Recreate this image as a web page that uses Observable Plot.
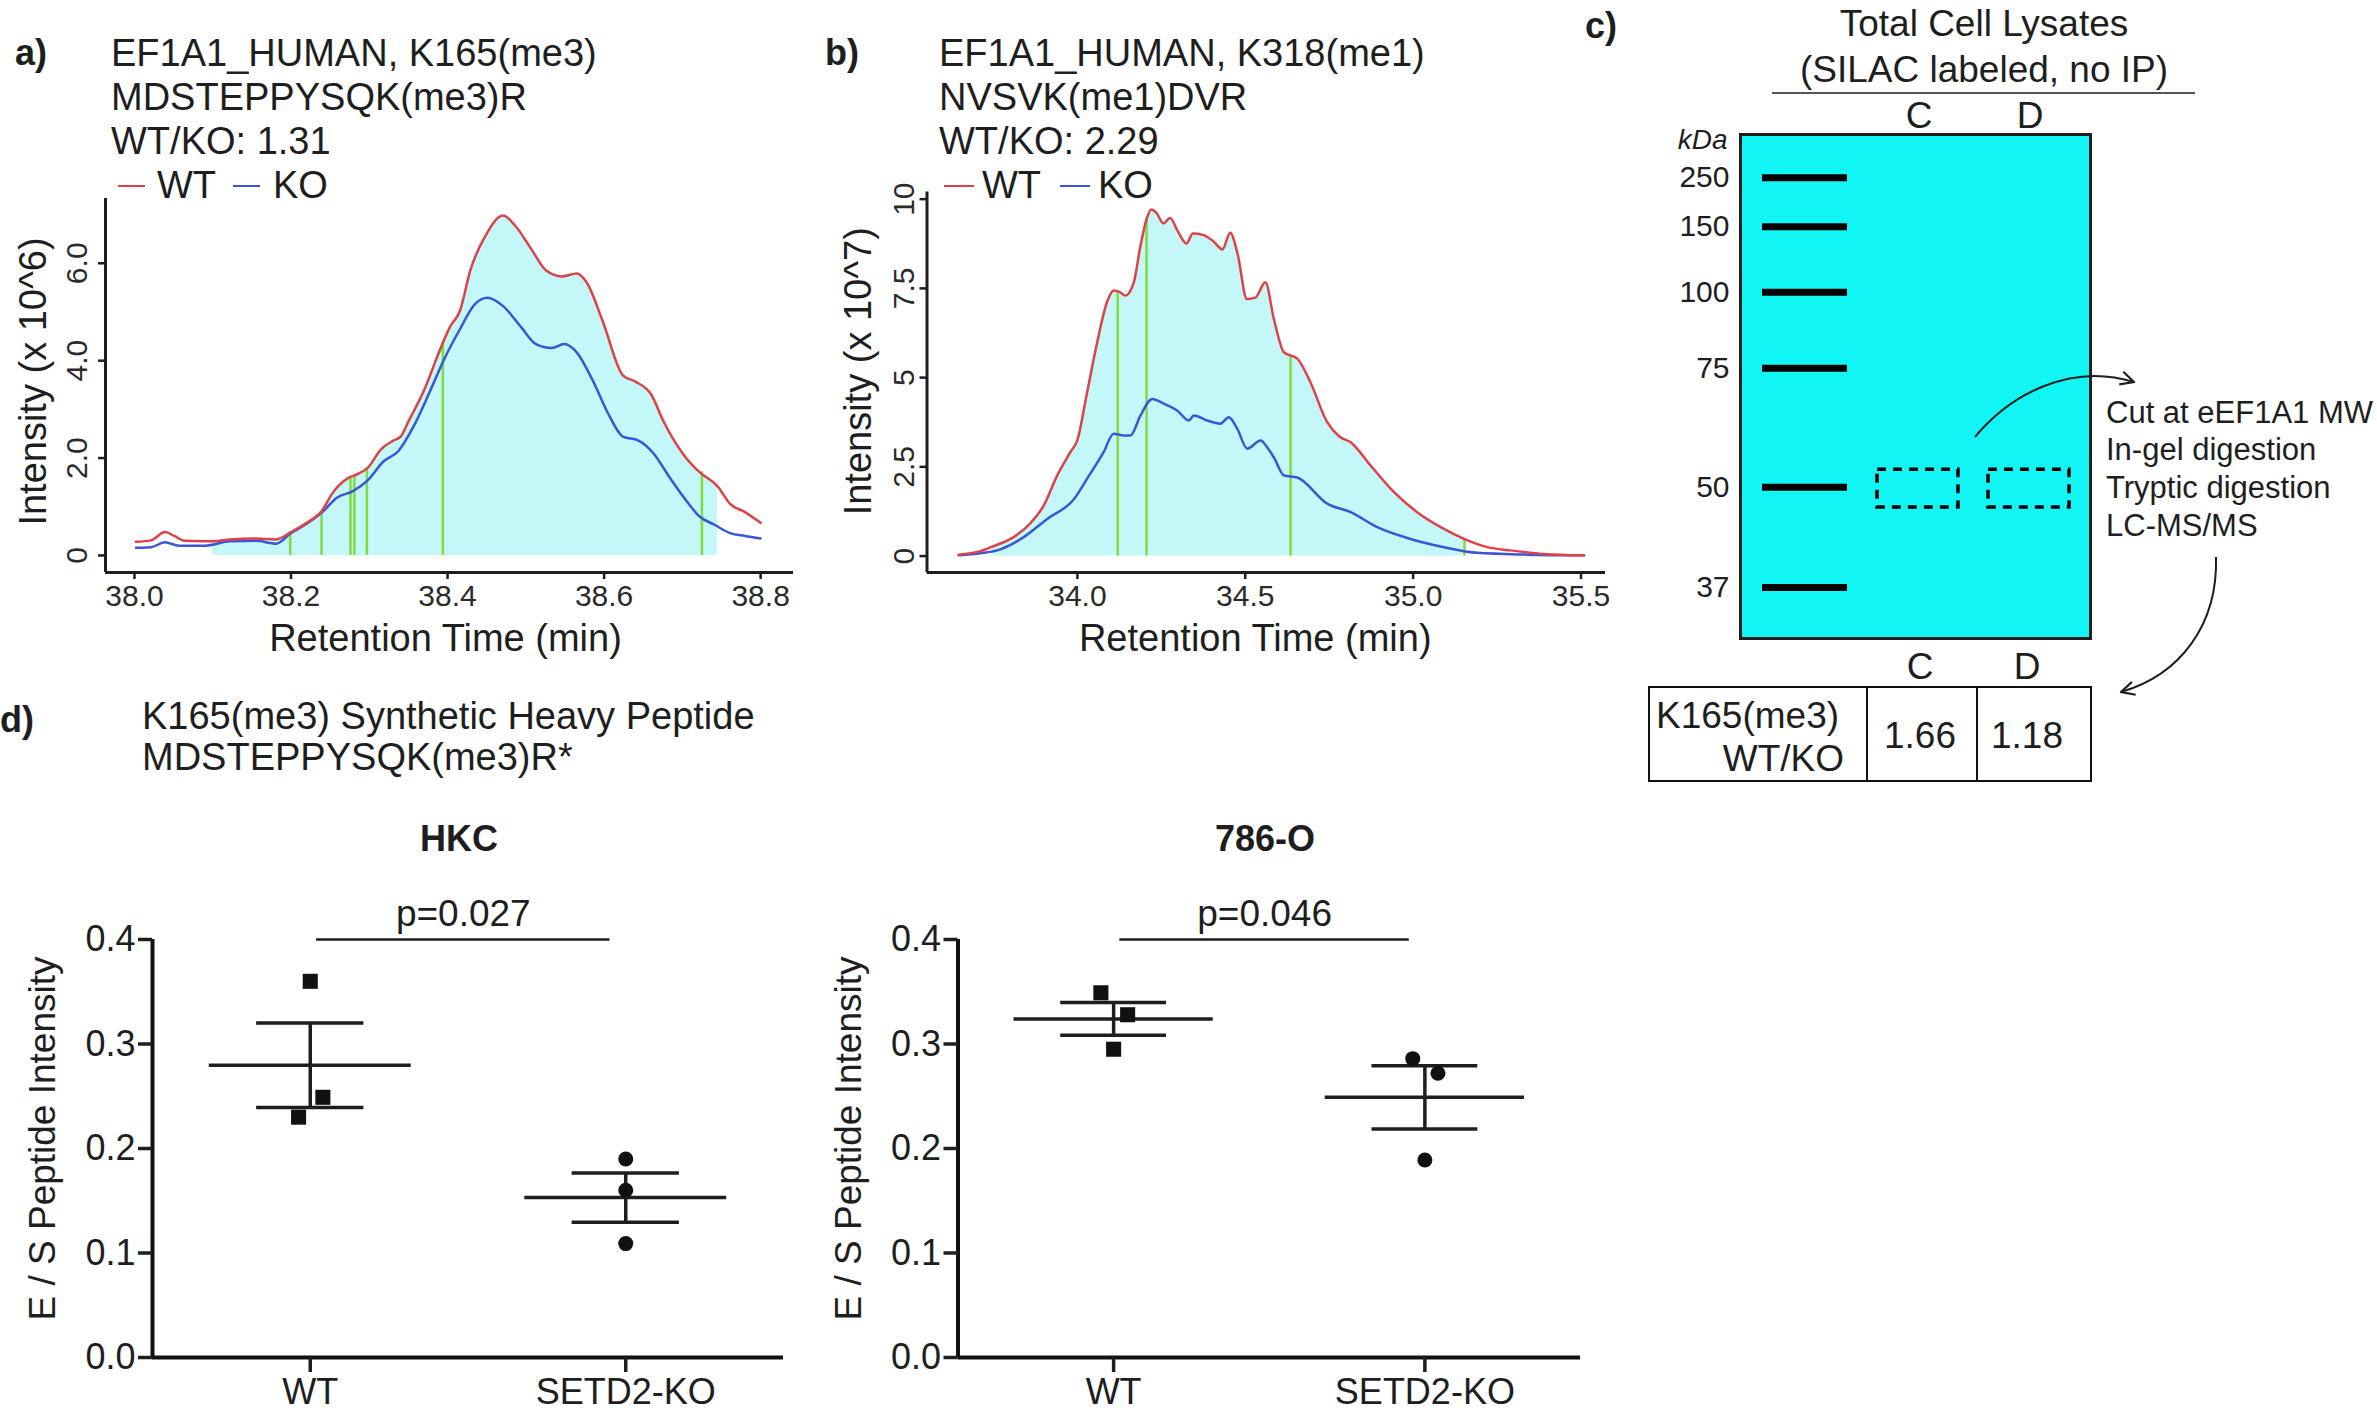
<!DOCTYPE html>
<html><head><meta charset="utf-8">
<script src="https://cdn.jsdelivr.net/npm/d3@7"></script>
<script src="https://cdn.jsdelivr.net/npm/@observablehq/plot@0.6"></script>
<style>
html,body{margin:0;padding:0;background:#fff;}
#fig{position:relative;width:2377px;height:1417px;overflow:hidden;background:#fff;font-family:"Liberation Sans",Arial,Helvetica,sans-serif;color:#1e1e1e;}
.t{position:absolute;white-space:pre;}
.p{position:absolute;}
</style></head><body><div id="fig"></div>
<script>
// ---------------- DATA ----------------
// Panel a: EF1A1_HUMAN K165(me3), intensity x10^6
const aTitle = ["EF1A1_HUMAN, K165(me3)", "MDSTEPPYSQK(me3)R", "WT/KO: 1.31"];
const aTimeWT = [38.002,38.021,38.039,38.051,38.064,38.09,38.10,38.122,38.155,38.181,38.2,38.22,38.24,38.253,38.272,38.285,38.298,38.315,38.331,38.34,38.35,38.37,38.39,38.403,38.416,38.429,38.448,38.471,38.487,38.507,38.526,38.546,38.565,38.578,38.598,38.624,38.64,38.66,38.676,38.702,38.722,38.745,38.761,38.78,38.8];
const aIntWT  = [0.28,0.31,0.48,0.40,0.30,0.29,0.29,0.33,0.35,0.33,0.48,0.67,0.93,1.28,1.58,1.67,1.80,2.18,2.36,2.44,2.75,3.39,4.21,4.69,5.03,5.85,6.55,6.98,6.76,6.29,5.85,5.73,5.79,5.60,4.82,3.70,3.57,3.31,2.75,2.06,1.71,1.42,1.06,0.89,0.67];
const aTimeKO = [38.002,38.021,38.039,38.057,38.09,38.122,38.155,38.181,38.2,38.22,38.24,38.259,38.279,38.298,38.318,38.337,38.357,38.377,38.396,38.416,38.435,38.451,38.471,38.494,38.513,38.533,38.549,38.565,38.585,38.605,38.624,38.644,38.663,38.683,38.702,38.722,38.741,38.761,38.78,38.8];
const aIntKO  = [0.16,0.17,0.27,0.20,0.20,0.29,0.30,0.24,0.46,0.65,0.89,1.19,1.32,1.54,1.93,2.14,2.66,3.35,4.04,4.65,5.16,5.29,5.12,4.69,4.34,4.26,4.34,4.17,3.61,2.92,2.44,2.36,2.10,1.62,1.19,0.80,0.63,0.46,0.40,0.35];
const aPeakWindow = [38.10, 38.745];
const aScanTime = [38.199,38.239,38.276,38.281,38.297,38.394,38.725];
const aScanTop  = [0.45,0.88,1.58,1.64,1.80,4.40,1.72];
const aXTicks = [38.0,38.2,38.4,38.6,38.8];
const aYTicks = [0,2,4,6];
const aYTickLabels = ["0","2.0","4.0","6.0"];

// Panel b: EF1A1_HUMAN K318(me1), intensity x10^7
const bTitle = ["EF1A1_HUMAN, K318(me1)", "NVSVK(me1)DVR", "WT/KO: 2.29"];
const bTimeWT = [33.646,33.711,33.745,33.81,33.86,33.90,33.94,33.979,34.0,34.029,34.059,34.088,34.108,34.125,34.143,34.168,34.188,34.208,34.22,34.235,34.256,34.276,34.298,34.325,34.344,34.374,34.405,34.432,34.455,34.477,34.505,34.53,34.56,34.585,34.615,34.655,34.694,34.744,34.78,34.814,34.873,34.943,35.012,35.082,35.155,35.221,35.29,35.39,35.509];
const bIntWT  = [0.04,0.14,0.26,0.53,0.92,1.42,2.26,2.91,3.25,4.59,5.99,7.11,7.44,7.40,7.30,7.67,8.70,9.50,9.71,9.62,9.32,9.47,9.12,8.76,9.04,9.00,8.82,8.59,9.06,8.47,7.20,7.24,7.67,6.65,5.71,5.53,4.87,3.75,3.35,3.19,2.54,1.79,1.23,0.81,0.47,0.25,0.16,0.06,0.02];
const bTimeKO = [33.646,33.711,33.761,33.84,33.91,33.99,34.029,34.078,34.108,34.138,34.158,34.188,34.223,34.257,34.297,34.332,34.347,34.386,34.426,34.451,34.476,34.506,34.546,34.565,34.586,34.615,34.655,34.744,34.814,34.893,34.992,35.092,35.191,35.34,35.509];
const bIntKO  = [0.02,0.08,0.16,0.53,1.04,1.60,2.17,2.91,3.43,3.38,3.38,3.94,4.40,4.27,4.08,3.80,3.94,3.80,3.71,3.89,3.57,3.01,3.24,3.05,2.75,2.26,2.20,1.47,1.23,0.81,0.48,0.25,0.09,0.04,0.02];
const bPeakWindow = [33.745, 35.155];
const bScanTime = [34.12,34.206,34.635,35.153];
const bScanTop  = [7.42,9.45,5.57,0.48];
const bXTicks = [34.0,34.5,35.0,35.5];
const bYTicks = [0,2.5,5,7.5,10];
const bYTickLabels = ["0","2.5","5","7.5","10"];

// Panel c: gel
const cTitle = ["Total Cell Lysates", "(SILAC labeled, no IP)"];
const ladderKDa = [250,150,100,75,50,37];
const ladderMigration = [0.086,0.183,0.313,0.464,0.700,0.899];   // relative migration in gel
const sampleLanes = ["C","D"];
const cutBand = [0.665, 0.740];                                   // excised region (relative migration)
const cSteps = ["Cut at eEF1A1 MW","In-gel digestion","Tryptic digestion","LC-MS/MS"];
const cRowLabel = ["K165(me3)","WT/KO"];
const cRatios = [1.66, 1.18];

// Panel d: synthetic heavy peptide E/S intensity
const dTitle = ["K165(me3) Synthetic Heavy Peptide", "MDSTEPPYSQK(me3)R*"];
const dGroups = ["WT","SETD2-KO"];
const hkcWT = [0.360,0.249,0.230];
const hkcKO = [0.190,0.160,0.109];
const hkcWTJitter = [0,0.040,-0.037];
const hkcKOJitter = [0,0,0];
const o786WT = [0.349,0.328,0.295];
const o786KO = [0.286,0.272,0.189];
const o786WTJitter = [-0.041,0.045,0];
const o786KOJitter = [-0.039,0.042,0];
const pValues = ["p=0.027","p=0.046"];
const dPanels = ["HKC","786-O"];
const dYTicks = [0,0.1,0.2,0.3,0.4];

// ---------------- STYLE ----------------
const INK = "#1e1e1e", RED = "#de4248", BLUE = "#3a56d8", GREEN = "#7ddf3e", FILL = "#c4f7f7", GEL = "#12f5f5";
const FONT = "'Liberation Sans', Arial, Helvetica, sans-serif";
const fig = document.getElementById("fig");
const baseStyle = {background: "transparent", overflow: "visible", maxWidth: "none", fontFamily: FONT, color: INK};

function place(node, left, top) {
  const d = document.createElement("div");
  d.className = "p"; d.style.left = left + "px"; d.style.top = top + "px";
  d.appendChild(node); fig.appendChild(d);
}
function txt(s, x, yc, size, o = {}) {
  const d = document.createElement("div");
  d.className = "t"; d.textContent = s;
  d.style.fontSize = size + "px"; d.style.lineHeight = size + "px";
  d.style.top = (yc - 0.5 * size) + "px";
  if (o.anchor === "middle") { d.style.left = x + "px"; d.style.transform = "translateX(-50%)"; }
  else if (o.anchor === "end") { d.style.right = (2377 - x) + "px"; }
  else d.style.left = x + "px";
  if (o.weight) d.style.fontWeight = o.weight;
  if (o.italic) d.style.fontStyle = "italic";
  fig.appendChild(d);
}
function dash(x1, x2, yc, color) {
  const d = document.createElement("div");
  d.style.cssText = `position:absolute;left:${x1}px;top:${yc-1.25}px;width:${x2-x1}px;height:2.5px;background:${color}`;
  fig.appendChild(d);
}
const zip = (ts, vs) => ts.map((t, i) => ({t, v: vs[i]}));
const centered = {textAnchor: "middle", lineAnchor: "middle"};

// ---------------- CHROMATOGRAMS ----------------
function chrom(o) {
  const wt = zip(o.tWT, o.vWT), ko = zip(o.tKO, o.vKO);
  const scans = o.scanT.map((t, i) => ({t, top: o.scanTop[i]}));
  return Plot.plot({
    width: o.w, height: o.h, marginLeft: o.ml, marginRight: o.mr, marginTop: o.mt, marginBottom: o.mb,
    style: baseStyle,
    x: {domain: o.xDomain, axis: null},
    y: {domain: o.yDomain, axis: null},
    marks: [
      Plot.areaY(wt.filter(d => d.t >= o.win[0] && d.t <= o.win[1]), {x: "t", y: "v", fill: FILL, curve: "monotone-x"}),
      Plot.ruleX(scans, {x: "t", y1: 0, y2: "top", stroke: GREEN, strokeWidth: 2.5}),
      Plot.lineY(ko, {x: "t", y: "v", stroke: BLUE, strokeWidth: 2.5, curve: "monotone-x"}),
      Plot.lineY(wt, {x: "t", y: "v", stroke: RED, strokeWidth: 2.5, curve: "monotone-x"}),
      Plot.ruleX([o.xDomain[0]], {stroke: INK, strokeWidth: 3}),
      Plot.ruleY([o.yDomain[0]], {stroke: INK, strokeWidth: 3}),
      Plot.axisX({ticks: o.xTicks, tickSize: 7, tickPadding: 5, tickFormat: ".1f", fontSize: 30, label: null, strokeWidth: 2.5, fill: "#2a2a2a"}),
      Plot.axisY({ticks: o.yTicks, tickSize: 7, tickFormat: () => "", label: null, strokeWidth: 2.5}),
      Plot.text(o.yTicks, {y: d => d, text: (d, i) => o.yTickLabels[i], frameAnchor: "left", dx: o.yTickDx, rotate: -90, fontSize: 30, fill: "#2a2a2a", ...centered}),
      Plot.text(["Retention Time (min)"], {text: d => d, frameAnchor: "bottom", dx: o.xLabDx, dy: 66, fontSize: 38, fill: INK, ...centered}),
      Plot.text([o.yLabel], {text: d => d, frameAnchor: "left", rotate: -90, dx: o.yLabDx, dy: o.yLabDy, fontSize: 38, fill: INK, ...centered})
    ]
  });
}

place(chrom({tWT: aTimeWT, vWT: aIntWT, tKO: aTimeKO, vKO: aIntKO, win: aPeakWindow, scanT: aScanTime, scanTop: aScanTop,
  w: 820, h: 490, ml: 105, mr: 27, mt: 8, mb: 108, xDomain: [37.963, 38.842], yDomain: [-0.35, 7.33],
  xTicks: aXTicks, yTicks: aYTicks, yTickLabels: aYTickLabels, yTickDx: -28, xLabDx: -4,
  yLabel: "Intensity (x 10^6)", yLabDx: -72, yLabDy: -4}), 0, 190);

place(chrom({tWT: bTimeWT, vWT: bIntWT, tKO: bTimeKO, vKO: bIntKO, win: bPeakWindow, scanT: bScanTime, scanTop: bScanTop,
  w: 800, h: 500, ml: 106.5, mr: 15, mt: 11.5, mb: 108, xDomain: [33.552, 35.573], yDomain: [-0.46, 10.2],
  xTicks: bXTicks, yTicks: bYTicks, yTickLabels: bYTickLabels, yTickDx: -23, xLabDx: -11,
  yLabel: "Intensity (x 10^7)", yLabDx: -68.5, yLabDy: -11}), 820, 180);

// titles / legends a, b
txt("a)", 15, 53, 36, {weight: "bold"});
aTitle.forEach((s, i) => txt(s, 111, 53 + 44 * i, 38));
dash(118, 145, 186, RED); txt("WT", 157, 185, 38);
dash(233, 260, 186, BLUE); txt("KO", 273, 185, 38);

txt("b)", 825, 53, 36, {weight: "bold"});
bTitle.forEach((s, i) => txt(s, 939, 53 + 44 * i, 38));
dash(944, 974, 186, RED); txt("WT", 982, 185, 38);
dash(1060, 1090, 186, BLUE); txt("KO", 1098, 185, 38);

// ---------------- PANEL c: GEL ----------------
const ladder = ladderKDa.map((k, i) => ({lane: "M", kDa: k, rf: ladderMigration[i]}));
const boxes = sampleLanes.map(l => ({lane: l, y1: cutBand[0], y2: cutBand[1]}));
place(Plot.plot({
  width: 560, height: 590, marginLeft: 160, marginRight: 50, marginTop: 44, marginBottom: 42,
  style: baseStyle,
  x: {type: "band", domain: ["M", ...sampleLanes], paddingInner: 0.236, paddingOuter: 0.191, axis: null},
  y: {domain: [0, 1], reverse: true, axis: null},
  marks: [
    Plot.frame({fill: GEL, stroke: INK, strokeWidth: 3}),
    Plot.tickY(ladder, {x: "lane", y: "rf", stroke: "#000", strokeWidth: 7}),
    Plot.barY(boxes, {x: "lane", y1: "y1", y2: "y2", fill: "none", stroke: "#000", strokeWidth: 3.5, strokeDasharray: "9,7", insetLeft: 4, insetRight: 0}),
    Plot.text(ladder, {y: "rf", text: d => String(d.kDa), frameAnchor: "left", dx: -11, textAnchor: "end", lineAnchor: "middle", fontSize: 30, fill: INK}),
    Plot.text(sampleLanes, {x: d => d, text: d => d, frameAnchor: "top", dx: 3, dy: -18, fontSize: 37, fill: INK, ...centered}),
    Plot.text(["kDa"], {text: d => d, frameAnchor: "top-left", dx: -13, dy: 6, textAnchor: "end", lineAnchor: "middle", fontStyle: "italic", fontSize: 28, fill: INK})
  ]
}), 1580, 90);

txt("c)", 1585, 26, 36, {weight: "bold"});
txt(cTitle[0], 1984, 23, 37, {anchor: "middle"});
txt(cTitle[1], 1984, 69, 37, {anchor: "middle"});
{
  const d = document.createElement("div");
  d.style.cssText = "position:absolute;left:1772px;top:92px;width:423px;height:2px;background:#555";
  fig.appendChild(d);
}
cSteps.forEach((s, i) => txt(s, 2106, 412 + 37.7 * i, 31));

// arrows (annotation)
{
  const svg = d3.create("svg").attr("width", 2377).attr("height", 1417)
    .style("position", "absolute").style("left", 0).style("top", 0).style("pointer-events", "none");
  svg.append("defs").append("marker").attr("id", "ah").attr("viewBox", "0 0 12 12")
    .attr("refX", 11).attr("refY", 6).attr("markerWidth", 16).attr("markerHeight", 16)
    .attr("markerUnits", "userSpaceOnUse").attr("orient", "auto")
    .append("path").attr("d", "M1,1 L11,6 L1,11").attr("fill", "none").attr("stroke", INK).attr("stroke-width", 1.6);
  svg.append("path").attr("d", "M1975,437 C2010,395 2070,362 2134,382")
    .attr("fill", "none").attr("stroke", INK).attr("stroke-width", 2).attr("marker-end", "url(#ah)");
  svg.append("path").attr("d", "M2216,557 C2218,625 2180,675 2121,692")
    .attr("fill", "none").attr("stroke", INK).attr("stroke-width", 2).attr("marker-end", "url(#ah)");
  fig.appendChild(svg.node());
}

// results table
sampleLanes.forEach((l, i) => txt(l, [1920, 2027][i], 666, 37, {anchor: "middle"}));
{
  const box = document.createElement("div");
  box.style.cssText = "position:absolute;left:1648px;top:686px;width:444px;height:96px;border:2.5px solid #111;box-sizing:border-box";
  fig.appendChild(box);
  [1867, 1977].forEach(x => {
    const l = document.createElement("div");
    l.style.cssText = `position:absolute;left:${x-1.25}px;top:686px;width:2.5px;height:96px;background:#111`;
    fig.appendChild(l);
  });
}
txt(cRowLabel[0], 1656, 715, 37);
txt(cRowLabel[1], 1844, 758, 37, {anchor: "end"});
cRatios.forEach((r, i) => txt(r.toFixed(2), [1920, 2027][i], 735, 37, {anchor: "middle"}));

// ---------------- PANEL d ----------------
function dotPlot(o) {
  const pts = [
    ...o.wt.map((v, i) => ({g: 0, v, j: o.wtJ[i]})),
    ...o.ko.map((v, i) => ({g: 1, v, j: o.koJ[i]}))
  ];
  const stats = [o.wt, o.ko].map((a, g) => {
    const m = d3.mean(a), se = d3.deviation(a) / Math.sqrt(a.length);
    return {g, mean: m, lo: m - se, hi: m + se};
  });
  return Plot.plot({
    width: o.w, height: 537, marginLeft: o.ml, marginRight: o.mr, marginTop: 59, marginBottom: 60,
    style: baseStyle,
    x: {domain: [-0.5, 1.5], axis: null},
    y: {domain: [0, 0.4], axis: null},
    marks: [
      Plot.ruleY([0.4], {x1: 0.02, x2: 0.95, stroke: INK, strokeWidth: 2.5}),
      Plot.text([o.p], {text: d => d, x: 0.485, y: 0.4, dy: -25, fontSize: 37, fill: INK, ...centered}),
      Plot.ruleY(stats, {y: "mean", x1: d => d.g - 0.32, x2: d => d.g + 0.32, stroke: INK, strokeWidth: 3.5}),
      Plot.ruleY(stats, {y: "lo", x1: d => d.g - 0.17, x2: d => d.g + 0.17, stroke: INK, strokeWidth: 3.5}),
      Plot.ruleY(stats, {y: "hi", x1: d => d.g - 0.17, x2: d => d.g + 0.17, stroke: INK, strokeWidth: 3.5}),
      Plot.ruleX(stats, {x: "g", y1: "lo", y2: "hi", stroke: INK, strokeWidth: 3.5}),
      Plot.dot(pts.filter(d => d.g === 0), {x: d => d.g + d.j, y: "v", symbol: "square", r: 8.5, fill: "#111", stroke: "none"}),
      Plot.dot(pts.filter(d => d.g === 1), {x: d => d.g + d.j, y: "v", symbol: "circle", r: 7.5, fill: "#111", stroke: "none"}),
      Plot.ruleX([-0.5], {y1: 0, y2: 0.4, stroke: "#111", strokeWidth: 4}),
      Plot.ruleY([0], {stroke: "#111", strokeWidth: 4}),
      Plot.axisY({ticks: dYTicks, tickSize: 14, tickPadding: 3, tickFormat: ".1f", fontSize: 36, strokeWidth: 3.5, label: null, fill: INK}),
      Plot.axisX({ticks: [0, 1], tickSize: 15, tickPadding: 6, tickFormat: i => dGroups[i], fontSize: 36, strokeWidth: 3.5, label: null, fill: INK}),
      Plot.text(["E / S Peptide Intensity"], {text: d => d, frameAnchor: "left", rotate: -90, dx: o.yLabDx, dy: -10, fontSize: 37, fill: INK, ...centered})
    ]
  });
}
place(dotPlot({wt: hkcWT, ko: hkcKO, wtJ: hkcWTJitter, koJ: hkcKOJitter, p: pValues[0], w: 800, ml: 152, mr: 17, yLabDx: -109}), 0, 880);
place(dotPlot({wt: o786WT, ko: o786KO, wtJ: o786WTJitter, koJ: o786KOJitter, p: pValues[1], w: 800, ml: 157.5, mr: 20, yLabDx: -108.5}), 800, 880);

txt("d)", 0, 720, 36, {weight: "bold"});
dTitle.forEach((s, i) => txt(s, 142, 716 + 41 * i, 38));
txt(dPanels[0], 459, 839, 36, {anchor: "middle", weight: "bold"});
txt(dPanels[1], 1265, 839, 36, {anchor: "middle", weight: "bold"});
</script></body></html>
